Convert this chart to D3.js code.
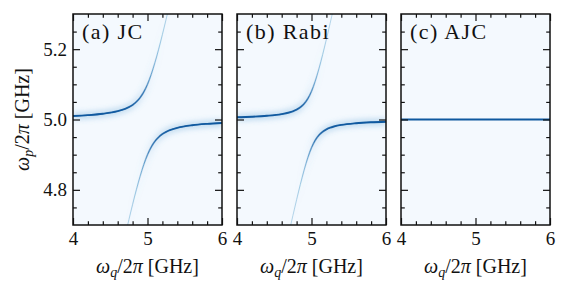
<!DOCTYPE html>
<html>
<head>
<meta charset="utf-8">
<script src="https://cdn.jsdelivr.net/npm/d3@7"></script>
<style>
  body { margin: 0; background: #fff; }
  text { font-family: "Liberation Serif", "Times New Roman", serif; fill: #111; }
</style>
</head>
<body>
<script>
// qubit frequency samples (GHz) along the x axis
const qubitFreq = [4.0, 4.2, 4.4, 4.6, 4.7, 4.75, 4.8, 4.85, 4.9, 4.95, 5.0,
                   5.05, 5.1, 5.15, 5.2, 5.25, 5.3, 5.4, 5.6, 5.8, 6.0];

// (a) JC: peak positions of the two dressed branches and their brightness
const jcUpper = [5.0099, 5.0123, 5.0162, 5.0236, 5.0303, 5.0351, 5.0414, 5.05, 5.0618, 5.0781, 5.1,
                 5.1281, 5.1618, 5.2, 5.2414, 5.2851, 5.3303, null, null, null, null];
const jcLower = [null, null, null, 4.5764, 4.6697, 4.7149, 4.7586, 4.80, 4.8382, 4.8719, 4.9,
                 4.9219, 4.9382, 4.95, 4.9586, 4.9649, 4.9697, 4.9764, 4.9838, 4.9877, 4.9901];
const jcUpperWeight = [0.990, 0.985, 0.974, 0.947, 0.916, 0.890, 0.854, 0.800, 0.724, 0.621, 0.500,
                       0.379, 0.276, 0.200, 0.146, 0.110, 0.084, 0.053, 0.026, 0.015, 0.010];
const jcLowerWeight = [0.010, 0.015, 0.026, 0.053, 0.084, 0.110, 0.146, 0.200, 0.276, 0.379, 0.500,
                       0.621, 0.724, 0.800, 0.854, 0.890, 0.916, 0.947, 0.974, 0.985, 0.990];

// (b) Rabi
const rabiUpper = [5.0064, 5.0079, 5.0105, 5.0154, 5.0200, 5.0234, 5.0281, 5.0347, 5.0443, 5.0588, 5.0800,
                   5.1088, 5.1443, 5.1847, 5.2281, 5.2734, 5.3200, null, null, null, null];
const rabiLower = [null, null, null, 4.5846, 4.6800, 4.7266, 4.7719, 4.8153, 4.8557, 4.8912, 4.9200,
                   4.9412, 4.9557, 4.9653, 4.9719, 4.9766, 4.9800, 4.9846, 4.9895, 4.9921, 4.9936];
const rabiUpperWeight = [0.994, 0.990, 0.983, 0.964, 0.941, 0.921, 0.890, 0.842, 0.765, 0.649, 0.500,
                         0.351, 0.235, 0.158, 0.110, 0.079, 0.059, 0.036, 0.017, 0.010, 0.006];
const rabiLowerWeight = [0.006, 0.010, 0.017, 0.036, 0.059, 0.079, 0.110, 0.158, 0.235, 0.351, 0.500,
                         0.649, 0.765, 0.842, 0.890, 0.921, 0.941, 0.964, 0.983, 0.990, 0.994];

// (c) AJC: single flat cavity peak
const ajcQubit = [4.0, 6.0];
const ajcPeak = [5.0, 5.0];
const ajcWeight = [1.0, 1.0];

const panelLabels = ['(a) JC', '(b) Rabi', '(c) AJC'];
const xMajor = [4, 5, 6];
const xMinor = [4.2, 4.4, 4.6, 4.8, 5.2, 5.4, 5.6, 5.8];
const yMajor = [4.8, 5.0, 5.2];
const yMinor = [4.75, 4.85, 4.9, 4.95, 5.05, 5.1, 5.15, 5.25];

const panels = [
  { label: panelLabels[0], branches: [
    { q: qubitFreq, f: jcUpper, w: jcUpperWeight },
    { q: qubitFreq, f: jcLower, w: jcLowerWeight }] },
  { label: panelLabels[1], branches: [
    { q: qubitFreq, f: rabiUpper, w: rabiUpperWeight },
    { q: qubitFreq, f: rabiLower, w: rabiLowerWeight }] },
  { label: panelLabels[2], branches: [
    { q: ajcQubit, f: ajcPeak, w: ajcWeight }] }
];

const width = 562;
const height = 281;
const mLeft = 73, mTop = 14, panelW = 149, panelH = 211, gap = 15;

const svg = d3.select('body').append('svg')
  .attr('width', width)
  .attr('height', height);

const defs = svg.append('defs');
defs.append('filter')
  .attr('id', 'blur')
  .attr('x', '-20%').attr('y', '-50%').attr('width', '140%').attr('height', '200%')
  .append('feGaussianBlur').attr('stdDeviation', 2.4);

const y = d3.scaleLinear().domain([4.7, 5.3]).range([mTop + panelH, mTop]);

panels.forEach((p, i) => {
  const x0 = mLeft + i * (panelW + gap);
  const x = d3.scaleLinear().domain([4, 6]).range([x0, x0 + panelW]);
  const g = svg.append('g');

  defs.append('clipPath').attr('id', `clip${i}`)
    .append('rect').attr('x', x0).attr('y', mTop).attr('width', panelW).attr('height', panelH);

  const plot = g.append('g').attr('clip-path', `url(#clip${i})`);
  plot.append('rect')
    .attr('x', x0).attr('y', mTop).attr('width', panelW).attr('height', panelH)
    .attr('fill', '#f4f9fe');

  p.branches.forEach((b, j) => {
    const pts = b.q.map((q, k) => ({ q, f: b.f[k], w: b.w[k] })).filter(d => d.f != null);

    // horizontal gradients carry the brightness along each branch
    const makeGrad = (id, colorFn, opFn) => {
      const grad = defs.append('linearGradient')
        .attr('id', id)
        .attr('gradientUnits', 'userSpaceOnUse')
        .attr('x1', x0).attr('x2', x0 + panelW).attr('y1', 0).attr('y2', 0);
      grad.selectAll('stop').data(pts).join('stop')
        .attr('offset', d => (x(d.q) - x0) / panelW)
        .attr('stop-color', d => colorFn(d.w))
        .attr('stop-opacity', d => opFn(d.w));
    };
    makeGrad(`glow${i}${j}`, () => '#5a9fd2', w => 0.3 * w * w);
    makeGrad(`thin${i}${j}`, w => d3.interpolateBlues(0.38 + 0.52 * w), w => 0.55 + 0.45 * Math.sqrt(w));
    makeGrad(`core${i}${j}`, () => '#0e589f', w => Math.pow(w, 1.8));

    const line = d3.line()
      .x(d => x(d.q))
      .y(d => y(d.f))
      .curve(d3.curveMonotoneX);

    [[`glow${i}${j}`, 8, true], [`thin${i}${j}`, 0.9, false], [`core${i}${j}`, 1.9, false]]
      .forEach(([id, sw, blur]) => {
        plot.append('path')
          .attr('d', line(pts))
          .attr('fill', 'none')
          .attr('stroke', `url(#${id})`)
          .attr('stroke-width', sw)
          .attr('filter', blur ? 'url(#blur)' : null);
      });
  });

  // inward ticks on all four sides
  const styleAxis = sel => {
    sel.select('.domain').remove();
    sel.selectAll('.tick line').attr('stroke', '#111').attr('stroke-width', 1.2);
    sel.attr('font-family', null).attr('font-size', null);
    sel.selectAll('text').attr('font-size', 19).attr('fill', '#111');
  };
  const axes = [
    [d3.axisBottom(x), mTop + panelH, 'x', true],
    [d3.axisTop(x), mTop, 'x', false],
    [d3.axisLeft(y), x0, 'y', i === 0],
    [d3.axisRight(y), x0 + panelW, 'y', false]
  ];
  axes.forEach(([ax, pos, dir, labels]) => {
    const tr = dir === 'x' ? `translate(0,${pos})` : `translate(${pos},0)`;
    g.append('g').attr('transform', tr)
      .call(ax.tickValues(dir === 'x' ? xMajor : yMajor)
        .tickSize(-7).tickPadding(dir === 'x' ? 7 : 6)
        .tickFormat(labels ? (dir === 'x' ? d3.format('d') : d3.format('.1f')) : ''))
      .call(styleAxis);
    g.append('g').attr('transform', tr)
      .call(ax.tickValues(dir === 'x' ? xMinor : yMinor).tickSize(-3.8).tickFormat(''))
      .call(styleAxis);
  });

  g.append('rect')
    .attr('x', x0).attr('y', mTop).attr('width', panelW).attr('height', panelH)
    .attr('fill', 'none').attr('stroke', '#111').attr('stroke-width', 1.5);

  g.append('text')
    .attr('x', x0 + 9).attr('y', mTop + 25)
    .attr('font-size', 22)
    .attr('letter-spacing', 1.4)
    .text(p.label);

  const xl = g.append('text')
    .attr('x', x0 + panelW / 2).attr('y', 273)
    .attr('text-anchor', 'middle')
    .attr('font-size', 20);
  xl.append('tspan').attr('font-style', 'italic').text('ω');
  xl.append('tspan').attr('font-style', 'italic').attr('font-size', 14).attr('dy', 4).text('q');
  xl.append('tspan').attr('dy', -4).text('/2');
  xl.append('tspan').attr('font-style', 'italic').text('π');
  xl.append('tspan').text('\u00a0[GHz]');
});

const yl = svg.append('text')
  .attr('transform', `translate(29,${mTop + panelH / 2}) rotate(-90)`)
  .attr('text-anchor', 'middle')
  .attr('font-size', 20);
yl.append('tspan').attr('font-style', 'italic').text('ω');
yl.append('tspan').attr('font-style', 'italic').attr('font-size', 14).attr('dy', 4).text('p');
yl.append('tspan').attr('dy', -4).text('/2');
yl.append('tspan').attr('font-style', 'italic').text('π');
yl.append('tspan').text('\u00a0[GHz]');
</script>
</body>
</html>
